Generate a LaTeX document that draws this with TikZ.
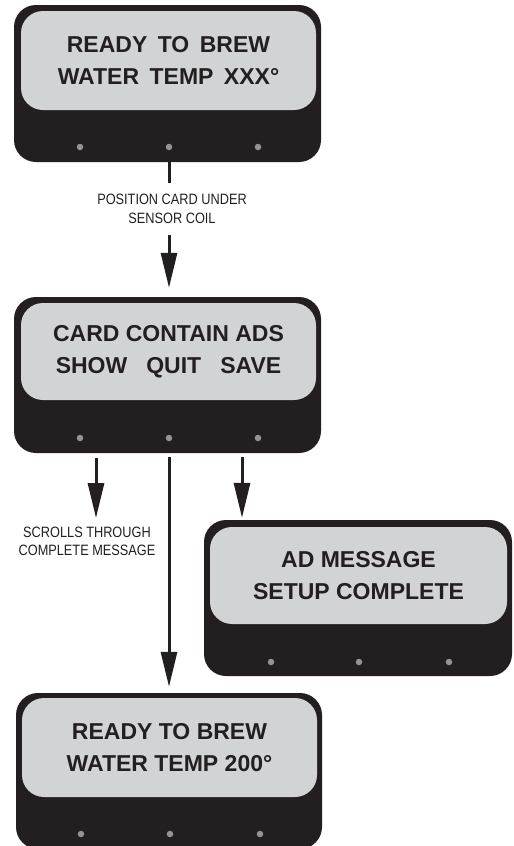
\documentclass[tikz,border=0pt]{standalone}
\usepackage{fontspec}
\setmainfont{Liberation Sans}
\newfontfamily\condfont[FakeStretch=0.85]{Liberation Sans}
\usetikzlibrary{arrows.meta,calc}
\definecolor{dark}{HTML}{231F20}
\definecolor{screenc}{HTML}{D1D3D4}
\definecolor{dotc}{HTML}{939598}
\begin{document}
\begin{tikzpicture}[x=1pt,y=-1pt,
  outer/.style={fill=dark, rounded corners=22pt, minimum width=307pt, minimum height=156pt, inner sep=0pt},
  screen/.style={fill=screenc, rounded corners=22pt, minimum width=295pt, minimum height=98pt, inner sep=0pt, text=dark, align=center, font=\bfseries\fontsize{23}{32}\selectfont},
  led/.style={circle, fill=dotc, minimum size=6.5pt, inner sep=0pt},
  lab/.style={inner sep=0pt, text=dark, align=center, font=\condfont\fontsize{15}{19}\selectfont},
  plain/.style={draw=dark, line width=3pt},
  flow/.style={draw=dark, line width=3pt, -{Triangle[length=35pt,width=16pt]}}
]
\useasboundingbox (0,0) rectangle (514,846);
\clip (0,0) rectangle (514,846);

% panel 1
\node[outer, minimum height=157pt] (p1) at (167.5,83.5) {};
\node[screen, minimum height=99pt] (p1s) at (168.5,60.5) {READY\hspace{10.5pt}TO\hspace{10.5pt}BREW\\WATER\hspace{10.5pt}TEMP\hspace{10.5pt}XXX°};
\node[led] (p1a) at (80,147) {};
\node[led] (p1b) at (169,147) {};
\node[led] (p1c) at (258,147) {};

% panel 2
\node[outer] (p2) at (167.5,375) {};
\node[screen, minimum height=97pt] (p2s) at (168.5,351.5) {CARD CONTAIN ADS\\SHOW\hspace{19pt}QUIT\hspace{19pt}SAVE};
\node[led] (p2a) at (80,438) {};
\node[led] (p2b) at (169,438) {};
\node[led] (p2c) at (258,438) {};

% panel 3
\node[outer, minimum width=308pt] (p3) at (358,598) {};
\node[screen, minimum width=297pt, minimum height=97pt] (p3s) at (358.5,575.5) {AD MESSAGE\\SETUP COMPLETE};
\node[led] (p3a) at (271,662) {};
\node[led] (p3b) at (359,662) {};
\node[led] (p3c) at (449,662) {};

% panel 4
\node[outer, minimum width=306pt] (p4) at (169,771) {};
\node[screen, minimum height=99pt] (p4s) at (169.5,747.5) {READY TO BREW\\WATER TEMP 200°};
\node[led] (p4a) at (81,834) {};
\node[led] (p4b) at (170,834) {};
\node[led] (p4c) at (260,834) {};

% connector 1
\coordinate (c1a) at (169,183);
\coordinate (c1b) at (169,235);
\node[lab] (l1) at (172,208.5) {POSITION CARD UNDER\\SENSOR COIL};
\draw[plain] (p1.south -| c1a) -- (c1a);
\draw[flow, shorten >=9pt] (c1b) -- (c1b |- p2.north);

% middle
\draw[flow, shorten <=4pt, shorten >=6pt] (p2.south -| c1a) -- (p4.north -| c1a);

% left
\coordinate (lt) at (96,518);
\node[lab, font=\condfont\fontsize{15}{18}\selectfont] (l2) at (87,541) {SCROLLS THROUGH\\COMPLETE MESSAGE};
\draw[flow, shorten <=5pt] (p2.south -| lt) -- (lt);

% right
\coordinate (rx) at (242,500);
\draw[flow, shorten <=4pt, shorten >=2pt] (p2.south -| rx) -- (p3.north -| rx);
\end{tikzpicture}
\end{document}
